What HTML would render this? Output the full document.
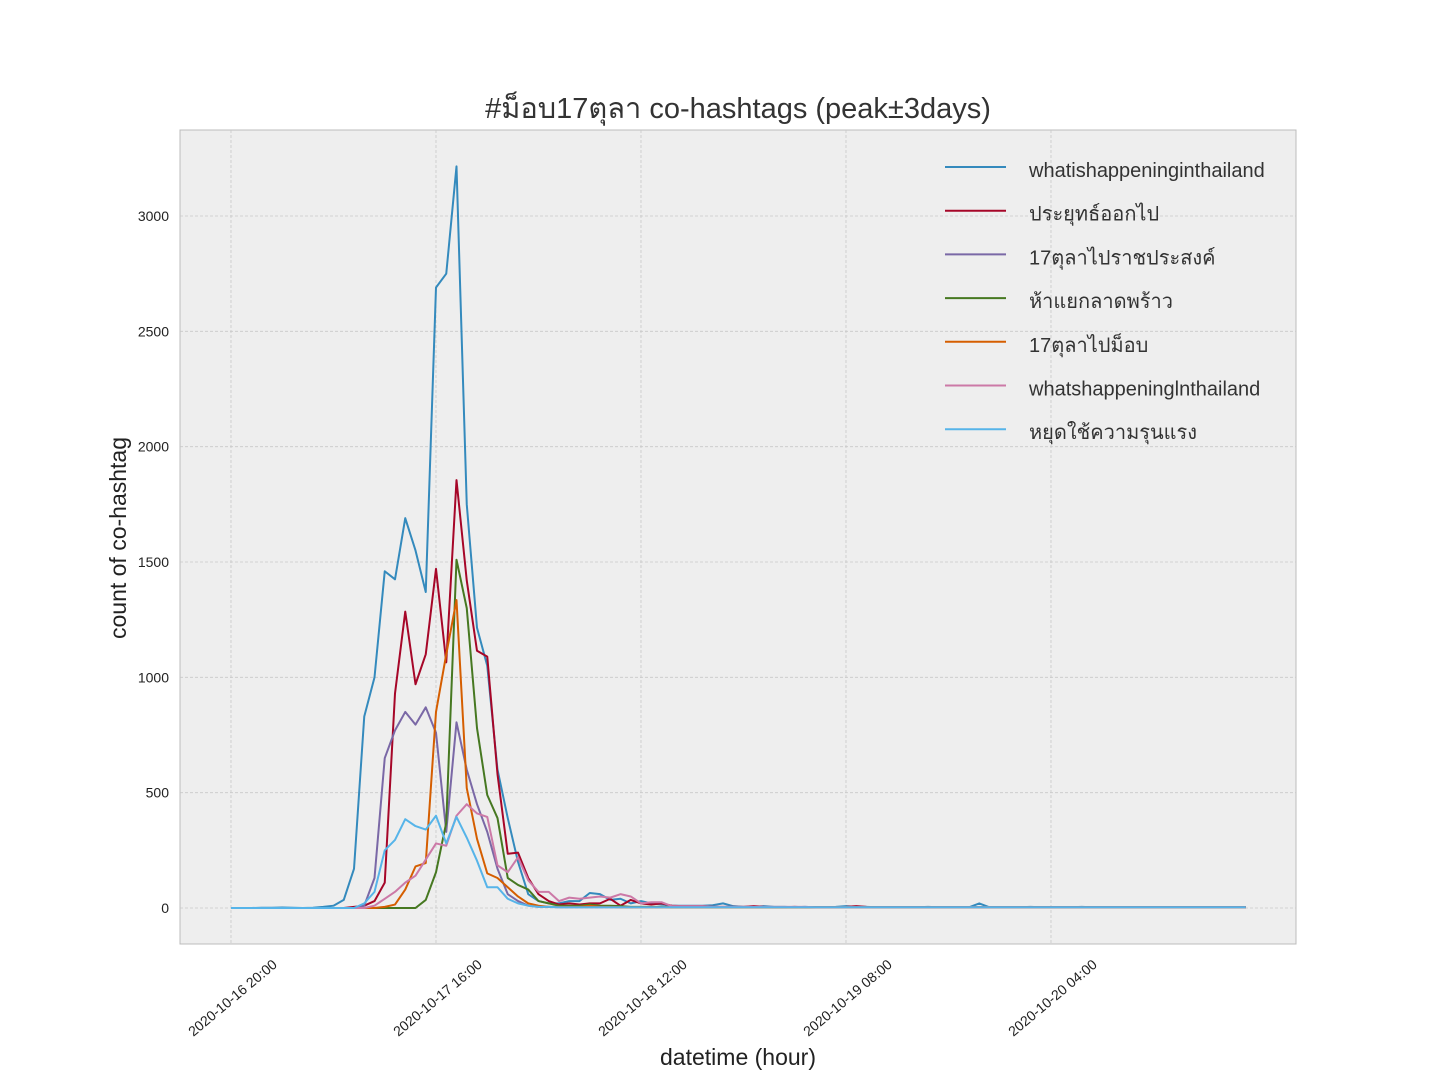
<!DOCTYPE html>
<html><head><meta charset="utf-8">
<style>
html,body{margin:0;padding:0;background:#fff;}
svg text{font-family:"Liberation Sans",sans-serif;}
.th{font-family:"Liberation Sans","Noto Sans CJK SC",sans-serif;}
</style></head>
<body>
<svg id="chart" width="1440" height="1080" xmlns="http://www.w3.org/2000/svg">
<rect x="180" y="130" width="1116" height="814" fill="#eeeeee" stroke="#bcbcbc"/>
<g id="grid"></g>
<g id="series"></g>
<g id="ticks"></g>
<text x="738" y="118" font-size="29" text-anchor="middle" fill="#333" class="th">#ม็อบ17ตุลา co-hashtags (peak±3days)</text>
<text x="738" y="1065" font-size="23" text-anchor="middle" fill="#222">datetime (hour)</text>
<text transform="translate(126,538) rotate(-90)" font-size="23" text-anchor="middle" fill="#222">count of co-hashtag</text>
<g id="legend"></g>
</svg>
<script>
const seriesNames=["whatishappeninginthailand","ประยุทธ์ออกไป","17ตุลาไปราชประสงค์","ห้าแยกลาดพร้าว","17ตุลาไปม็อบ","whatshappeninglnthailand","หยุดใช้ความรุนแรง"];
const seriesColors=["#348abd","#a60628","#7a68a6","#467821","#d55e00","#cc79a7","#56b4e9"];
const xTickHours=[0,20,40,60,80];
const xTickLabels=["2020-10-16 20:00","2020-10-17 16:00","2020-10-18 12:00","2020-10-19 08:00","2020-10-20 04:00"];
const yTicks=[0,500,1000,1500,2000,2500,3000];
const s0=[0,0,0,1,1,2,1,0,1,5,10,35,170,830,1000,1460,1425,1690,1550,1370,2690,2750,3215,1750,1215,1050,600,390,200,60,30,20,20,30,30,65,60,35,40,20,30,20,15,10,10,10,10,12,20,8,5,5,8,5,5,3,5,3,3,5,8,5,5,3,3,3,3,3,5,3,3,3,3,20,3,3,3,3,5,3,3,3,3,5,3,3,3,3,3,3,3,3,3,3,3,3,3,3,3,3];
const s1=[0,0,0,0,0,0,0,0,0,0,0,0,5,10,30,110,930,1285,970,1100,1470,1065,1855,1420,1115,1090,580,235,240,130,60,30,15,20,15,20,20,40,10,35,20,15,20,10,8,8,8,5,5,5,5,8,5,3,3,5,3,3,3,3,5,8,5,3,3,3,3,3,3,3,3,3,3,3,3,3,3,3,3,3,3,3,3,3,3,3,3,3,3,3,3,3,3,3,3,3,3,3,3,3];
const s2=[0,0,0,0,0,0,0,0,0,0,0,0,0,10,130,650,770,850,795,870,760,330,805,600,450,330,170,60,30,10,5,5,3,3,3,3,3,3,3,3,3,3,3,3,3,3,3,3,3,3,3,3,3,3,3,3,3,3,3,3,3,3,3,3,3,3,3,3,3,3,3,3,3,3,3,3,3,3,3,3,3,3,3,3,3,3,3,3,3,3,3,3,3,3,3,3,3,3,3,3];
const s3=[0,0,0,0,0,0,0,0,0,0,0,0,0,0,0,0,0,0,0,35,155,370,1510,1300,780,490,390,130,100,80,30,20,10,10,10,15,10,10,8,5,5,5,5,3,3,3,3,3,3,3,3,3,3,3,3,3,3,3,3,3,3,3,3,3,3,3,3,3,3,3,3,3,3,3,3,3,3,3,3,3,3,3,3,3,3,3,3,3,3,3,3,3,3,3,3,3,3,3,3,3];
const s4=[0,0,0,0,0,0,0,0,0,0,0,0,0,0,0,5,15,80,180,195,850,1100,1335,520,300,150,130,90,50,20,10,5,5,5,5,10,5,5,3,3,3,3,3,3,3,3,3,3,3,3,3,3,3,3,3,3,3,3,3,3,3,3,3,3,3,3,3,3,3,3,3,3,3,3,3,3,3,3,3,3,3,3,3,3,3,3,3,3,3,3,3,3,3,3,3,3,3,3,3,3];
const s5=[0,0,0,0,0,0,0,0,0,0,0,0,0,0,10,40,70,110,140,210,280,270,400,450,410,395,185,155,220,120,70,70,30,45,40,45,50,45,60,50,20,25,25,8,8,8,8,5,5,5,5,5,5,5,5,5,5,3,3,3,3,3,3,3,3,3,3,3,3,3,3,3,3,3,3,3,3,3,3,3,3,3,3,3,3,3,3,3,3,3,3,3,3,3,3,3,3,3,3,3];
const s6=[0,0,0,0,0,0,0,0,0,0,0,0,0,20,70,250,295,385,355,340,400,280,395,305,205,90,90,40,20,10,5,5,3,3,3,3,3,3,3,3,3,3,3,3,3,3,3,3,3,3,3,3,3,3,3,3,3,3,3,3,3,3,3,3,3,3,3,3,3,3,3,3,3,3,3,3,3,3,3,3,3,3,3,3,3,3,3,3,3,3,3,3,3,3,3,3,3,3,3,3];
const allSeries=[s0,s1,s2,s3,s4,s5,s6];

const NS="http://www.w3.org/2000/svg";
function xs(h){return 231+h*10.25;}
function ys(v){return 908-v*(692/3000);}
function mk(tag,attrs,parent){const e=document.createElementNS(NS,tag);for(const k in attrs)e.setAttribute(k,attrs[k]);parent.appendChild(e);return e;}
const grid=document.getElementById('grid'),ticks=document.getElementById('ticks'),ser=document.getElementById('series'),leg=document.getElementById('legend');
yTicks.forEach(v=>{
  const l=mk('line',{x1:180,x2:1296,y1:ys(v),y2:ys(v),stroke:'#c8c8c8','stroke-dasharray':'3,2','stroke-width':0.8},grid);
  
  
  const t=mk('text',{x:169,y:ys(v)+5,'font-size':14,'text-anchor':'end',fill:'#222'},ticks);
  t.textContent=v;
  
  
});
xTickHours.forEach((h,i)=>{
  const l=mk('line',{x1:xs(h),x2:xs(h),y1:130,y2:944,stroke:'#c8c8c8','stroke-dasharray':'3,2','stroke-width':0.8},grid);
  
  
  const t=mk('text',{transform:`translate(${xs(h)+47},${966}) rotate(-40)`,'font-size':14,'text-anchor':'end',fill:'#222'},ticks);
  t.textContent=xTickLabels[i];
  
  
});
allSeries.forEach((s,i)=>{
  const p=mk('polyline',{points:s.map((v,h)=>xs(h)+','+ys(v)).join(' '),fill:'none',stroke:seriesColors[i],'stroke-width':2,'stroke-linejoin':'round'},ser);
  
  
  const y=170+i*43.7;
  const ll=mk('line',{x1:945,x2:1006,y1:y-3,y2:y-3,stroke:seriesColors[i],'stroke-width':2},leg);
  
  
  const t=mk('text',{x:1029,y:y+7,'font-size':20,fill:'#333',class:'th'},leg);
  t.textContent=seriesNames[i];
  
  
});
</script>
</body></html>
